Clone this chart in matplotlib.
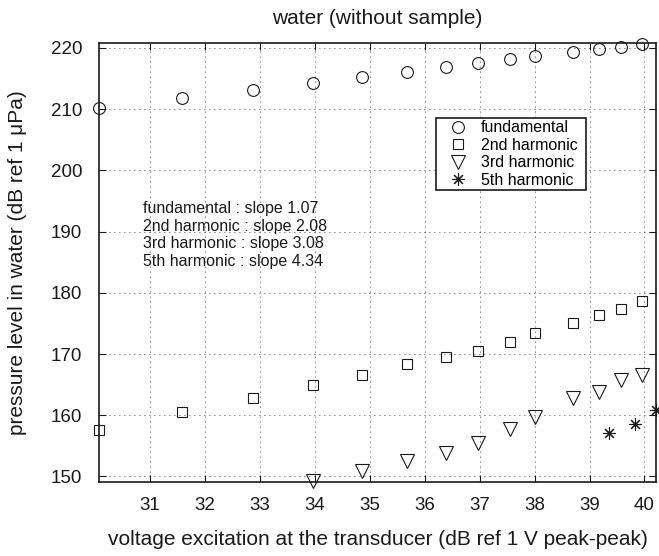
import matplotlib
matplotlib.use("Agg")
import matplotlib.pyplot as plt

plt.rcParams['font.family'] = ['Liberation Sans', 'DejaVu Sans']

# ---- data ----
x_drive = [30.07, 31.58, 32.88, 33.97, 34.85, 35.68, 36.38, 36.97, 37.56, 38.01,
           38.69, 39.17, 39.57, 39.96]
fundamental = [210.2, 211.8, 213.2, 214.3, 215.2, 216.1, 216.8, 217.5, 218.2, 218.7,
               219.3, 219.8, 220.2, 220.6]
second_harm = [157.6, 160.5, 162.9, 165.0, 166.6, 168.3, 169.5, 170.5, 172.0, 173.4,
               175.0, 176.3, 177.3, 178.6]
x_third = [33.97, 34.85, 35.68, 36.38, 36.97, 37.56, 38.01, 38.69, 39.17, 39.57, 39.96]
third_harm = [149.2, 150.9, 152.6, 153.9, 155.5, 157.8, 159.7, 162.9, 163.8, 165.8, 166.5]
x_fifth = [39.35, 39.83, 40.21]
fifth_harm = [157.1, 158.6, 160.8]

series_labels = ["fundamental", "2nd harmonic", "3rd harmonic", "5th harmonic"]
slopes = [1.07, 2.08, 3.08, 4.34]
x_ticks = [31, 32, 33, 34, 35, 36, 37, 38, 39, 40]
y_ticks = [150, 160, 170, 180, 190, 200, 210, 220]

title = "water (without sample)"
xlabel = "voltage excitation at the transducer (dB ref 1 V peak-peak)"
ylabel = "pressure level in water (dB ref 1 \u03bcPa)"

# ---- figure ----
fig = plt.figure(figsize=(6.59, 5.56), dpi=100)
ax = fig.add_axes([99/659, 1-482/556, 557/659, 438.7/556])

mk = dict(linestyle='none', markerfacecolor='none', markeredgecolor='#1a1a1a',
          markeredgewidth=0.8, clip_on=False)
ax.plot(x_drive, fundamental, marker='o', markersize=8.5, label=series_labels[0], **mk)
ax.plot(x_drive, second_harm, marker='s', markersize=7.5, label=series_labels[1], **mk)
ax.plot(x_third, third_harm, marker='v', markersize=9.5, label=series_labels[2], **mk)
ax.plot(x_fifth, fifth_harm, marker=(8, 2, 0), markersize=9, label=series_labels[3], **mk)

ax.set_xlim(min(x_drive), max(x_fifth))
ax.set_ylim(149.1, 220.75)
ax.set_xticks(x_ticks)
ax.set_yticks(y_ticks)

ax.grid(True, color='black', linestyle=(0, (1, 5)), linewidth=0.6)
ax.tick_params(direction='in', top=True, right=True, length=5, width=0.8,
               labelsize=13.5, colors='#1a1a1a')
ax.tick_params(axis='x', pad=11)
ax.tick_params(axis='y', pad=12)
for s in ax.spines.values():
    s.set_linewidth(1.2)
    s.set_color('#1a1a1a')

ax.set_xlabel(xlabel, fontsize=15, color='#1a1a1a')
ax.set_ylabel(ylabel, fontsize=15, color='#1a1a1a')
ax.xaxis.set_label_coords(0.5, -0.11)
ax.yaxis.set_label_coords(-0.13, 0.5)
fig.text(377.5/659, 1-18/556, title, ha='center', va='center', fontsize=15, color='#1a1a1a')

# slope annotation
for i, (lab, sl) in enumerate(zip(series_labels, slopes)):
    ax.text(0.0795, 0.624 - i*0.0406, f"{lab} : slope {sl:.2f}", transform=ax.transAxes,
            fontsize=11.5, ha='left', va='center', color='#1a1a1a')

leg = ax.legend(loc='upper left', bbox_to_anchor=(0.6045, 0.662, 0.2695, 0.167),
                mode='expand', borderaxespad=0, borderpad=0.12, labelspacing=0.16,
                handlelength=2.6, handletextpad=0.1, fontsize=11.5, fancybox=False,
                framealpha=1, edgecolor='#1a1a1a', numpoints=1)
leg.get_frame().set_linewidth(1.2)

fig.savefig("out.png", dpi=100)
